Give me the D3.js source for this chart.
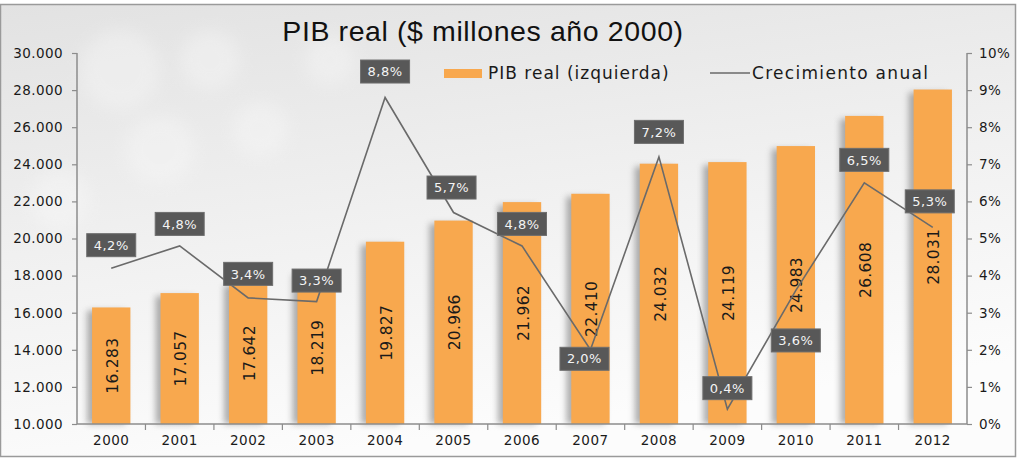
<!DOCTYPE html>
<html>
<head>
<meta charset="utf-8">
<script src="https://cdn.jsdelivr.net/npm/d3@7"></script>
<style>
  html, body { margin: 0; padding: 0; background: #fff; }
  svg { display: block; }
</style>
</head>
<body>
<div id="chart"></div>
<script>
// data
const years = ["2000", "2001", "2002", "2003", "2004", "2005", "2006", "2007", "2008", "2009", "2010", "2011", "2012"];
const pibReal = [16283, 17057, 17642, 18219, 19827, 20966, 21962, 22410, 24032, 24119, 24983, 26608, 28031];
const crecimiento = [4.2, 4.8, 3.4, 3.3, 8.8, 5.7, 4.8, 2.0, 7.2, 0.4, 3.6, 6.5, 5.3];
const leftTicks = [10000, 12000, 14000, 16000, 18000, 20000, 22000, 24000, 26000, 28000, 30000];
const rightTicks = [0, 1, 2, 3, 4, 5, 6, 7, 8, 9, 10];
const seriesNames = ["PIB real (izquierda)", "Crecimiento anual"];
const title = "PIB real ($ millones año 2000)";

const W = 1017, H = 459;
const margin = {top: 53, right: 50, bottom: 35, left: 77};

const svg = d3.select("#chart").append("svg")
    .attr("width", W)
    .attr("height", H);

let defs = svg.append("defs");

let bg = defs.append("linearGradient")
    .attr("id", "bg")
    .attr("x1", 0).attr("y1", 0).attr("x2", 0.3).attr("y2", 1);
bg.append("stop").attr("offset", "0%").attr("stop-color", "#e2e2e2");
bg.append("stop").attr("offset", "55%").attr("stop-color", "#f1f1f1");
bg.append("stop").attr("offset", "100%").attr("stop-color", "#fcfcfc");

defs.append("filter").attr("id", "blur")
    .attr("x", "-50%").attr("y", "-50%").attr("width", "200%").attr("height", "200%")
    .append("feGaussianBlur").attr("stdDeviation", 3);

defs.append("filter").attr("id", "soft")
    .attr("x", "-50%").attr("y", "-50%").attr("width", "200%").attr("height", "200%")
    .append("feGaussianBlur").attr("stdDeviation", 8);

// background + frame
svg.append("rect")
    .attr("x", 0.5).attr("y", 4.5)
    .attr("width", W - 2).attr("height", H - 7)
    .attr("fill", "url(#bg)")
    .attr("stroke", "#9a9a9a")
    .attr("stroke-width", 1.5);

// faint bokeh circles in the background
let bokeh = svg.append("g").attr("filter", "url(#soft)").attr("opacity", 0.35);
[[120, 70, 40], [210, 60, 30], [160, 150, 35], [260, 130, 28], [60, 200, 30], [330, 60, 25]].forEach(c => {
    bokeh.append("circle").attr("cx", c[0]).attr("cy", c[1]).attr("r", c[2]).attr("fill", "#fafafa");
});

svg.append("text")
    .attr("x", 483)
    .attr("y", 41)
    .attr("text-anchor", "middle")
    .style("font-family", "'Liberation Sans', Arial, sans-serif")
    .style("font-size", "28.5px")
    .style("letter-spacing", "0.6px")
    .style("fill", "#111")
    .text(title);

const innerW = W - margin.left - margin.right;
const innerH = H - margin.top - margin.bottom;

let g = svg.append("g")
    .attr("transform", "translate(" + margin.left + "," + margin.top + ")");

let x = d3.scaleBand()
    .domain(years)
    .range([0, innerW])
    .paddingInner(0.44)
    .paddingOuter(0.22);

let step = x.step();
let xc = d => x(d) + x.bandwidth() / 2;

let yL = d3.scaleLinear().domain([10000, 30000]).range([innerH, 0]);
let yR = d3.scaleLinear().domain([0, 10]).range([innerH, 0]);

// bar shadows
g.append("g").selectAll("rect")
    .data(years)
    .enter().append("rect")
    .attr("x", d => x(d) - 5)
    .attr("y", (d, i) => yL(pibReal[i]) + 3)
    .attr("width", x.bandwidth())
    .attr("height", (d, i) => innerH - yL(pibReal[i]) - 3)
    .attr("fill", "#6e6e6e")
    .attr("opacity", 0.55)
    .attr("filter", "url(#blur)");

// bars
g.append("g").selectAll("rect")
    .data(years)
    .enter().append("rect")
    .attr("x", d => x(d))
    .attr("y", (d, i) => yL(pibReal[i]))
    .attr("width", x.bandwidth())
    .attr("height", (d, i) => innerH - yL(pibReal[i]))
    .attr("fill", "#f8a84e");

// bar value labels (rotated)
g.append("g").selectAll("text")
    .data(years)
    .enter().append("text")
    .attr("transform", (d, i) => "translate(" + (xc(d) + 1) + "," + ((yL(pibReal[i]) + innerH) / 2) + ")rotate(-90)")
    .attr("text-anchor", "middle")
    .attr("dy", "0.36em")
    .style("font-family", "'DejaVu Sans', Verdana, sans-serif")
    .style("font-size", "15.5px")
    .style("letter-spacing", "0.3px")
    .style("fill", "#1a1a1a")
    .text((d, i) => d3.format(",")(pibReal[i]).replace(/,/g, "."));

// axes
let fmtL = d => d3.format(",")(d).replace(/,/g, ".");

let axisL = g.append("g")
    .call(d3.axisLeft(yL).tickValues(leftTicks).tickFormat(fmtL).tickSize(5).tickPadding(9));
let axisR = g.append("g")
    .attr("transform", "translate(" + innerW + ",0)")
    .call(d3.axisRight(yR).tickValues(rightTicks).tickFormat(d => d + "%").tickSize(5).tickPadding(7));

// x axis: ticks sit between categories
let axisX = g.append("g")
    .attr("transform", "translate(0," + innerH + ")");
axisX.append("line")
    .attr("x1", 0).attr("x2", innerW)
    .attr("stroke", "#8c8c8c").attr("stroke-width", 1.5);
axisX.selectAll(".sep")
    .data(years.slice(1))
    .enter().append("line")
    .attr("x1", d => x(d) - step * x.paddingInner() / 2)
    .attr("x2", d => x(d) - step * x.paddingInner() / 2)
    .attr("y1", 0).attr("y2", 6)
    .attr("stroke", "#8c8c8c").attr("stroke-width", 1.2);
axisX.selectAll(".lbl")
    .data(years)
    .enter().append("text")
    .attr("x", d => xc(d))
    .attr("y", 21)
    .attr("text-anchor", "middle")
    .style("font-family", "'DejaVu Sans', Verdana, sans-serif")
    .style("font-size", "13.5px")
    .style("letter-spacing", "0.5px")
    .style("fill", "#1a1a1a")
    .text(d => d);

[axisL, axisR].forEach(a => {
    a.select(".domain").attr("stroke", "#8c8c8c").attr("stroke-width", 1.5);
    a.selectAll(".tick line").attr("stroke", "#8c8c8c").attr("stroke-width", 1.2);
    a.selectAll(".tick text")
        .style("font-family", "'DejaVu Sans', Verdana, sans-serif")
        .style("font-size", "13.5px")
        .style("letter-spacing", "0.4px")
        .style("fill", "#1a1a1a");
});
axisL.select(".domain").attr("d", "M0," + innerH + "V0");
axisR.select(".domain").attr("d", "M0," + innerH + "V0");

// growth line
let line = d3.line()
    .x((d, i) => xc(years[i]))
    .y(d => yR(d));

g.append("path")
    .datum(crecimiento)
    .attr("d", line)
    .attr("fill", "none")
    .attr("stroke", "#6a6a6a")
    .attr("stroke-width", 1.6);

// percentage boxes, shifted from their point as in the picture
let boxShift = [[0, -23], [0, -22], [0, -24], [0, -21], [0, -26], [-2, -25], [0, -22],
                [-6, 9], [0, -25], [0, -21], [0, 50], [0, -23], [-3, -26]];
let boxes = g.append("g").selectAll("g")
    .data(crecimiento)
    .enter().append("g")
    .attr("transform", (d, i) => "translate(" + (xc(years[i]) + boxShift[i][0]) + "," + (yR(d) + boxShift[i][1]) + ")");

boxes.append("rect")
    .attr("x", -24.5).attr("y", -11.5)
    .attr("width", 49).attr("height", 23)
    .attr("fill", "#585858")
    .attr("stroke", "#6e6e6e");

boxes.append("text")
    .attr("text-anchor", "middle")
    .attr("dy", "0.36em")
    .style("font-family", "'DejaVu Sans', Verdana, sans-serif")
    .style("font-size", "13px")
    .style("letter-spacing", "0.5px")
    .style("fill", "#f4f4f4")
    .text(d => d3.format(".1f")(d).replace(".", ",") + "%");

// legend
let legend = svg.append("g");
legend.append("rect")
    .attr("x", 444).attr("y", 69)
    .attr("width", 38).attr("height", 9)
    .attr("fill", "#f8a84e");
legend.append("text")
    .attr("x", 488).attr("y", 73)
    .attr("dy", "0.36em")
    .style("font-family", "'DejaVu Sans', Verdana, sans-serif")
    .style("font-size", "17px")
    .style("letter-spacing", "1px")
    .style("fill", "#1a1a1a")
    .text(seriesNames[0]);
legend.append("line")
    .attr("x1", 710).attr("x2", 750)
    .attr("y1", 73).attr("y2", 73)
    .attr("stroke", "#6a6a6a").attr("stroke-width", 1.5);
legend.append("text")
    .attr("x", 752).attr("y", 73)
    .attr("dy", "0.36em")
    .style("font-family", "'DejaVu Sans', Verdana, sans-serif")
    .style("font-size", "17px")
    .style("letter-spacing", "1.3px")
    .style("fill", "#1a1a1a")
    .text(seriesNames[1]);
</script>
</body>
</html>
